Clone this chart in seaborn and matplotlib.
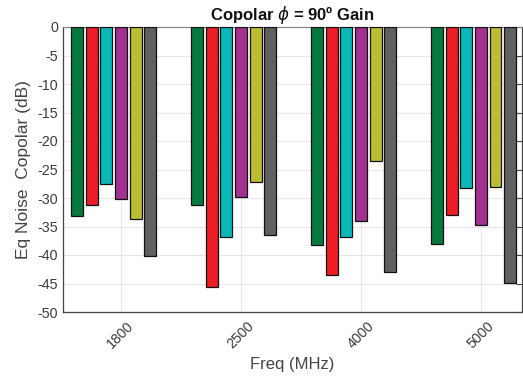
import numpy as np
import pandas as pd
import matplotlib
matplotlib.use("Agg")
import matplotlib.pyplot as plt
import matplotlib.transforms as mtransforms
import seaborn as sns

freqs = ["1800", "2500", "4000", "5000"]
series = ["S1", "S2", "S3", "S4", "S5", "S6", "S7"]
s1 = [-33.2, -31.3, -38.3, -38.0]
s2 = [-31.2, -45.7, -43.5, -32.9]
s3 = [-27.5, -36.9, -36.9, -28.2]
s4 = [-30.2, -29.9, -34.0, -34.7]
s5 = [-33.7, -27.2, -23.5, -28.1]
s6 = [-40.2, -36.5, -43.0, -44.9]
s7 = [np.nan, np.nan, np.nan, np.nan]
colors = ["#067A3E", "#EE1C25", "#0BB8B8", "#A2318F", "#BBBD33", "#606060", "#ffffff"]
yticks = list(range(-50, 1, 5))

rows = []
for name, vals in zip(series, [s1, s2, s3, s4, s5, s6, s7]):
    for f, v in zip(freqs, vals):
        rows.append({"Freq": f, "Series": name, "Value": v})
df = pd.DataFrame(rows)

sns.set_style("white")
plt.rcParams["font.family"] = ["Liberation Sans", "DejaVu Sans"]
plt.rcParams["mathtext.fontset"] = "dejavusans"

fig = plt.figure(figsize=(5.23, 3.81), dpi=100)
ax = fig.add_axes([63 / 523, 69 / 381, (521.7 - 63) / 523, 285 / 381])

sns.barplot(data=df, x="Freq", y="Value", hue="Series", hue_order=series,
            order=freqs, palette=colors, saturation=1, width=0.852, gap=0.18,
            edgecolor="#111111", linewidth=0.9, errorbar=None, ax=ax,
            legend=False, zorder=3)

ax.set_xlim(-0.483, 3.34)
ax.set_ylim(-50, 0)
ax.set_yticks(yticks)
ax.set_yticklabels([str(t) for t in yticks])
ax.grid(True, color="#E6E6E6", linewidth=0.8, zorder=0)
ax.set_axisbelow(True)
for s in ax.spines.values():
    s.set_visible(True)
    s.set_color("#444444")
    s.set_linewidth(0.9)
ax.spines["top"].set_color("#888888")
ax.tick_params(axis="both", which="both", direction="in", length=4, width=0.8,
               colors="#444444", labelsize=10.3, top=True, right=True,
               labelcolor="#3C3C3C")
ax.tick_params(axis="x", pad=5)
offset = mtransforms.ScaledTranslation(6 / 100, 0, fig.dpi_scale_trans)
for lab in ax.get_xticklabels():
    lab.set_rotation(45)
    lab.set_ha("right")
    lab.set_rotation_mode("anchor")
    lab.set_transform(lab.get_transform() + offset)

ax.set_xlabel("Freq (MHz)", fontsize=12, color="#444444", labelpad=4)
ax.set_ylabel("Eq Noise  Copolar (dB)", fontsize=12.5, color="#444444", labelpad=5)
ax.set_title(r"Copolar $\phi$ = 90º Gain", fontsize=12, fontweight="bold",
             color="#111111", pad=5)

fig.savefig("out.png", dpi=100)
